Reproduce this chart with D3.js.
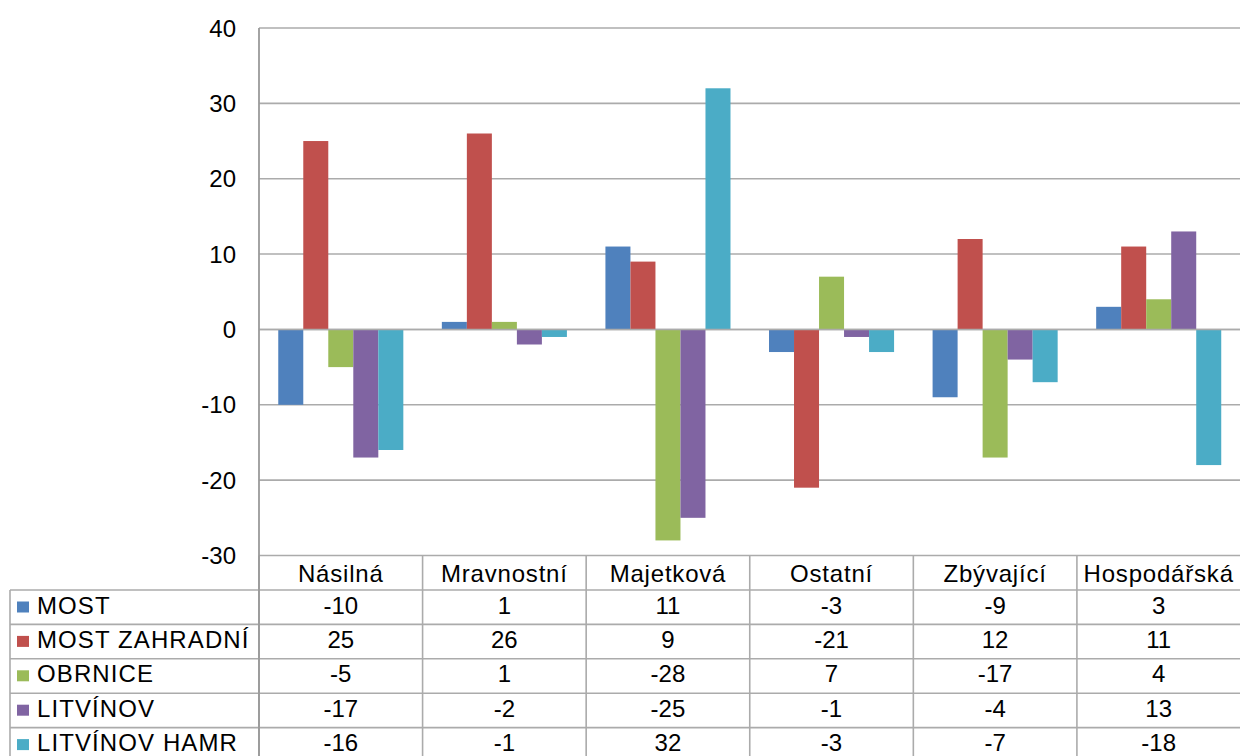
<!DOCTYPE html>
<html>
<head>
<meta charset="utf-8">
<script src="https://cdn.jsdelivr.net/npm/d3@7"></script>
<style>
  html, body { margin: 0; padding: 0; background: #fff; }
  svg { display: block; }
  text { font-family: "Liberation Sans", Arial, sans-serif; fill: #000; }
</style>
</head>
<body>
<svg id="chart" width="1240" height="756"></svg>
<script>
const categories = ["Násilná", "Mravnostní", "Majetková", "Ostatní", "Zbývající", "Hospodářská"];
const seriesNames = ["MOST", "MOST ZAHRADNÍ", "OBRNICE", "LITVÍNOV", "LITVÍNOV HAMR"];
const seriesColors = ["#4F81BD", "#C0504D", "#9BBB59", "#8064A2", "#4BACC6"];
const most = [-10, 1, 11, -3, -9, 3];
const mostZahradni = [25, 26, 9, -21, 12, 11];
const obrnice = [-5, 1, -28, 7, -17, 4];
const litvinov = [-17, -2, -25, -1, -4, 13];
const litvinovHamr = [-16, -1, 32, -3, -7, -18];
const yTicks = [-30, -20, -10, 0, 10, 20, 30, 40];

const seriesValues = [most, mostZahradni, obrnice, litvinov, litvinovHamr];

const svg = d3.select("#chart");
const plotLeft = 259, plotRight = 1240.5, plotTop = 28, plotBottom = 555.5;
const rowTop = 590, rowH = 34.4;
const tableLeft = 10;
const gridColor = "#ababab";
const fs = "24px";

const x0 = d3.scaleBand().domain(categories).range([plotLeft, plotRight]).padding(0);
const x1 = d3.scaleBand().domain(seriesNames).range([0, x0.bandwidth()]).paddingInner(0).paddingOuter(0.77);
const y = d3.scaleLinear().domain([-30, 40]).range([plotBottom, plotTop]);

// gridlines
svg.append("g").selectAll("line").data(yTicks).join("line")
  .attr("x1", plotLeft).attr("x2", plotRight)
  .attr("y1", d => y(d)).attr("y2", d => y(d))
  .attr("stroke", gridColor).attr("stroke-width", 1.6);

// y labels
svg.append("g").selectAll("text").data(yTicks).join("text")
  .attr("x", 236).attr("y", d => y(d) + 8.5)
  .attr("text-anchor", "end")
  .style("font-size", fs)
  .text(d => d);

// bars
const barData = [];
seriesNames.forEach((s, si) => {
  categories.forEach((c, ci) => {
    barData.push({ s, c, v: seriesValues[si][ci], color: seriesColors[si] });
  });
});
svg.append("g").selectAll("rect").data(barData).join("rect")
  .attr("x", d => x0(d.c) + x1(d.s))
  .attr("width", x1.bandwidth())
  .attr("y", d => Math.min(y(d.v), y(0)))
  .attr("height", d => Math.abs(y(d.v) - y(0)))
  .attr("fill", d => d.color);

// zero line redrawn on top
svg.append("line")
  .attr("x1", plotLeft).attr("x2", plotRight)
  .attr("y1", y(0)).attr("y2", y(0))
  .attr("stroke", gridColor).attr("stroke-width", 1.6);

// table
const tableBottom = rowTop + rowH * seriesNames.length;
const tbl = svg.append("g");
d3.range(seriesNames.length + 1).forEach(i => {
  tbl.append("line")
    .attr("x1", tableLeft).attr("x2", plotRight)
    .attr("y1", rowTop + i * rowH).attr("y2", rowTop + i * rowH)
    .attr("stroke", gridColor).attr("stroke-width", 1.6);
});
tbl.append("line")
  .attr("x1", tableLeft).attr("x2", tableLeft)
  .attr("y1", rowTop).attr("y2", tableBottom)
  .attr("stroke", gridColor).attr("stroke-width", 1.6);
categories.forEach(c => {
  tbl.append("line")
    .attr("x1", x0(c)).attr("x2", x0(c))
    .attr("y1", plotBottom).attr("y2", tableBottom)
    .attr("stroke", gridColor).attr("stroke-width", 1.6);
});
svg.append("line")
  .attr("x1", plotLeft).attr("x2", plotLeft)
  .attr("y1", plotTop).attr("y2", tableBottom)
  .attr("stroke", "#9a9a9a").attr("stroke-width", 1.8);

// header row
tbl.append("g").selectAll("text").data(categories).join("text")
  .attr("x", c => x0(c) + x0.bandwidth() / 2)
  .attr("y", plotBottom + 26.5)
  .attr("text-anchor", "middle")
  .style("font-size", fs)
  .style("letter-spacing", "0.8px")
  .text(c => c);

// legend rows
seriesNames.forEach((s, si) => {
  const ry = rowTop + si * rowH;
  tbl.append("rect")
    .attr("x", 17).attr("y", ry + 11.5)
    .attr("width", 12).attr("height", 11)
    .attr("fill", seriesColors[si]);
  tbl.append("text")
    .attr("x", 37).attr("y", ry + 23.5)
    .style("font-size", fs)
    .style("letter-spacing", "1.1px")
    .text(s);
  tbl.append("g").selectAll("text").data(seriesValues[si]).join("text")
    .attr("x", (d, ci) => x0(categories[ci]) + x0.bandwidth() / 2)
    .attr("y", ry + 23.5)
    .attr("text-anchor", "middle")
    .style("font-size", fs)
    .text(d => d);
});
</script>
</body>
</html>
